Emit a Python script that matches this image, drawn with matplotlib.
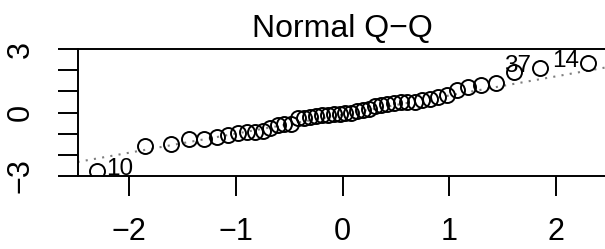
import matplotlib
matplotlib.use("Agg")
import matplotlib.pyplot as plt
import numpy as np
from statistics import NormalDist

# ---- data (sorted sample values) ----
sample_values = [
    -2.78, -1.59, -1.49, -1.27, -1.26, -1.18, -1.07, -0.99, -0.94, -0.91,
    -0.86, -0.75, -0.59, -0.56, -0.55, -0.26, -0.24, -0.21, -0.18, -0.14,
    -0.11, -0.07, -0.05, -0.02, 0.00, 0.05, 0.10, 0.17, 0.31, 0.36,
    0.38, 0.43, 0.48, 0.50, 0.52, 0.59, 0.66, 0.74, 0.81, 1.07,
    1.22, 1.31, 1.42, 1.90, 2.09, 2.35,
]
# observation ids of labelled points: (rank in sorted order, label)
id_ranks = [1, 45, 46]
id_labels = ["10", "37", "14"]

title_text = "Normal Q\u2212Q"
x_ticks = [-2, -1, 0, 1, 2]
x_tick_labels = ["\u22122", "\u22121", "0", "1", "2"]
y_ticks = [-3, -2, -1, 0, 1, 2, 3]
y_tick_labels = ["\u22123", "", "", "0", "", "", "3"]
y_limits = [-3, 3]

# ---- Q-Q computation (like R's qqnorm / qqline) ----
y = np.array(sample_values)
n = len(y)
nd = NormalDist()
x = np.array([nd.inv_cdf((i - 0.5) / n) for i in range(1, n + 1)])
q1, q3 = np.quantile(y, [0.25, 0.75])
z1, z3 = nd.inv_cdf(0.25), nd.inv_cdf(0.75)
slope = (q3 - q1) / (z3 - z1)
intercept = q1 - slope * z1

plt.rcParams["font.family"] = ["Liberation Sans", "DejaVu Sans"]

W, H = 605, 249
fig = plt.figure(figsize=(W / 100, H / 100), dpi=100)
fig.patch.set_facecolor("white")

left_px, right_px = 77.5, 607.5
top_px, bottom_px = 49.3, 175.7
ax = fig.add_axes([left_px / W, 1 - bottom_px / H,
                   (right_px - left_px) / W, (bottom_px - top_px) / H])

ax.axline((0, intercept), slope=slope, color="#7F7F7F", lw=1.5,
          linestyle=(0, (1, 3)), zorder=1)
ax.plot(x, y, "o", mfc="none", mec="black", ms=10.8, mew=1.4, zorder=2)

for r, lab in zip(id_ranks, id_labels):
    xi, yi = x[r - 1], y[r - 1]
    if xi > 0:
        ax.annotate(lab, (xi, yi), xytext=(-6.5, 1.5), textcoords="offset points",
                    ha="right", va="center", fontsize=17.5, annotation_clip=False)
    else:
        ax.annotate(lab, (xi, yi), xytext=(6.5, 1.5), textcoords="offset points",
                    ha="left", va="center", fontsize=17.5, annotation_clip=False)

pad = 0.04 * (x.max() - x.min())
ax.set_xlim(x.min() - pad, x.max() + pad)
ax.set_ylim(*y_limits)

ax.set_xticks(x_ticks)
ax.set_xticklabels(x_tick_labels, fontsize=22)
ax.set_yticks(y_ticks)
ax.set_yticklabels(y_tick_labels, fontsize=22, rotation=90, va="center")
ax.tick_params(axis="both", direction="out", length=14.4, width=1.4, color="black")
ax.tick_params(axis="x", pad=15.5)
ax.tick_params(axis="y", pad=15.5)

for s in ax.spines.values():
    s.set_linewidth(1.4)
    s.set_color("black")

ax.set_title(title_text, fontsize=23, pad=9)

fig.savefig("out.png", dpi=100, facecolor="white")
